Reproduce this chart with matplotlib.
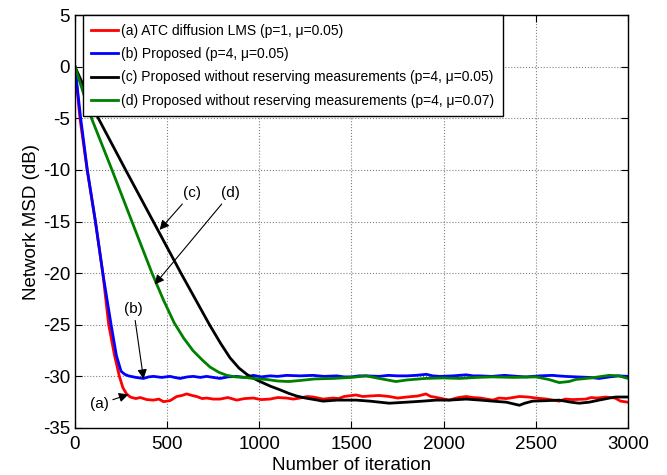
import matplotlib
matplotlib.use('Agg')
import matplotlib.pyplot as plt

plt.rcParams['font.family'] = ['Liberation Sans', 'DejaVu Sans']
plt.rcParams['axes.unicode_minus'] = False

# (a) ATC diffusion LMS
iter_a = [0, 27, 66, 111, 151, 183, 215, 241, 260, 280, 300, 330, 354, 390, 426, 455, 480,
          516, 552, 580, 606, 635, 660, 690, 714, 750, 787, 830, 877, 920, 968, 1010, 1058,
          1100, 1148, 1185, 1220, 1260, 1292, 1346, 1400, 1430, 1460, 1525, 1560, 1600, 1650,
          1705, 1750, 1800, 1830, 1860, 1904, 1930, 1950, 1990, 2030, 2080, 2122, 2160, 2200,
          2266, 2300, 2340, 2411, 2460, 2501, 2530, 2560, 2627, 2660, 2700, 2772, 2800, 2830,
          2880, 2930, 2960, 3000]
msd_a = [0, -5, -10, -15, -20, -25, -28, -30, -31.1, -31.7, -32.0, -32.15, -32.05, -32.25,
         -32.3, -32.2, -32.45, -32.35, -31.95, -31.85, -31.7, -31.85, -31.95, -32.15, -32.1,
         -32.2, -32.2, -32.05, -32.3, -32.15, -32.1, -32.25, -32.2, -32.05, -32.1, -32.2,
         -32.1, -31.95, -32.0, -32.2, -32.1, -32.15, -31.95, -31.8, -31.95, -31.9, -31.85,
         -31.95, -32.1, -32.0, -31.95, -31.9, -31.7, -31.95, -32.0, -32.15, -32.3, -32.05,
         -31.95, -32.05, -32.1, -32.3, -32.1, -32.15, -31.95, -32.0, -32.1, -32.15, -32.2,
         -32.4, -32.2, -32.25, -32.2, -32.05, -32.1, -32.0, -32.1, -32.4, -32.5]

# (b) Proposed
iter_b = [0, 31, 67, 111, 151, 196, 225, 250, 270, 290, 330, 371, 400, 426, 470, 516, 540,
          570, 610, 642, 680, 714, 750, 787, 830, 877, 920, 968, 1010, 1058, 1100, 1148, 1220,
          1292, 1350, 1420, 1460, 1500, 1540, 1580, 1650, 1700, 1750, 1800, 1850, 1906, 1940,
          1980, 2050, 2122, 2160, 2194, 2260, 2330, 2400, 2447, 2520, 2591, 2620, 2660, 2720,
          2790, 2843, 2900, 2950, 3000]
msd_b = [0, -5, -10, -15, -20, -25, -28, -29.5, -29.8, -29.95, -30.1, -30.2, -30.05, -30.0,
         -30.1, -30.0, -30.1, -30.2, -30.05, -30.0, -30.1, -30.0, -30.1, -30.2, -30.05, -30.0,
         -30.1, -29.9, -30.05, -29.95, -30.0, -29.9, -29.95, -29.9, -30.0, -29.95, -30.05,
         -30.05, -29.95, -29.95, -30.0, -29.9, -29.95, -29.95, -29.9, -29.8, -29.95, -30.0,
         -29.95, -29.85, -29.95, -29.95, -30.0, -29.9, -30.0, -30.05, -29.95, -29.9, -29.95,
         -30.0, -30.05, -30.1, -30.2, -30.05, -29.95, -30.0]

# (c) Proposed without reserving measurements, mu=0.05
iter_c = [0, 127, 275, 425, 575, 730, 790, 841, 890, 932, 970, 1004, 1060, 1112, 1160, 1202,
          1250, 1300, 1346, 1420, 1525, 1600, 1705, 1800, 1886, 1960, 2030, 2122, 2200, 2266,
          2340, 2411, 2440, 2483, 2560, 2627, 2690, 2735, 2790, 2843, 2900, 2933, 3000]
msd_c = [0, -5, -10, -15, -20, -25, -26.8, -28.2, -29.2, -29.8, -30.2, -30.5, -30.95, -31.3,
         -31.65, -31.9, -32.1, -32.25, -32.4, -32.3, -32.3, -32.4, -32.6, -32.5, -32.4, -32.3,
         -32.3, -32.2, -32.3, -32.4, -32.5, -32.8, -32.6, -32.4, -32.35, -32.3, -32.5, -32.6,
         -32.5, -32.3, -32.1, -32.0, -32.0]

# (d) Proposed without reserving measurements, mu=0.07
iter_d = [0, 90, 201, 309, 418, 480, 538, 590, 640, 690, 733, 780, 824, 870, 920, 968, 1040,
          1100, 1160, 1220, 1300, 1400, 1500, 1579, 1650, 1741, 1800, 1900, 2000, 2086, 2180,
          2266, 2380, 2501, 2570, 2627, 2680, 2717, 2800, 2898, 2950, 3000]
msd_d = [0, -5, -10, -15, -20, -22.6, -24.8, -26.3, -27.5, -28.4, -29.1, -29.6, -29.9,
         -30.05, -30.1, -30.2, -30.3, -30.45, -30.5, -30.4, -30.25, -30.2, -30.1, -29.95,
         -30.2, -30.5, -30.35, -30.2, -30.15, -30.2, -30.1, -30.05, -30.1, -30.05, -30.3,
         -30.6, -30.5, -30.3, -30.15, -29.9, -29.95, -30.2]

labels = ['(a) ATC diffusion LMS (p=1, \u03bc=0.05)',
          '(b) Proposed (p=4, \u03bc=0.05)',
          '(c) Proposed without reserving measurements (p=4, \u03bc=0.05)',
          '(d) Proposed without reserving measurements (p=4, \u03bc=0.07)']

fig = plt.figure(figsize=(6.67, 4.75), dpi=100)
ax = fig.add_axes([0.1124, 0.099, 0.8291, 0.869])

ax.plot(iter_a, msd_a, color='#ff0000', lw=2, label=labels[0])
ax.plot(iter_b, msd_b, color='#0000ff', lw=2, label=labels[1])
ax.plot(iter_c, msd_c, color='#000000', lw=2, label=labels[2])
ax.plot(iter_d, msd_d, color='#008000', lw=2, label=labels[3])

ax.set_xlim(0, 3000)
ax.set_ylim(-35, 5)
ax.set_xticks(range(0, 3001, 500))
ax.set_yticks(range(-35, 6, 5))
ax.grid(True, linestyle=':', color='#808080', lw=0.8)
ax.tick_params(direction='in', top=True, right=True, labelsize=13.5, length=5)
ax.tick_params(axis='x', pad=6)
for s in ax.spines.values():
    s.set_linewidth(1.0)
ax.set_xlabel('Number of iteration', fontsize=13.5, labelpad=3)
ax.set_ylabel('Network MSD (dB)', fontsize=13.5, labelpad=2)

leg = ax.legend(loc='upper left', bbox_to_anchor=(0.0145, 1.0), fontsize=10,
                frameon=True, fancybox=False, edgecolor='k', framealpha=1,
                handlelength=1.9, handletextpad=0.25, borderaxespad=0, borderpad=0.6,
                labelspacing=0.68)
leg.get_frame().set_linewidth(1.0)

arrow = dict(arrowstyle='-|>', color='k', lw=0.8, mutation_scale=14, shrinkA=1, shrinkB=0)
ax.annotate('(a)', xy=(290, -31.75), xytext=(132, -32.7), fontsize=11, ha='center',
            va='center', arrowprops=arrow)
ax.annotate('(b)', xy=(372, -30.25), xytext=(318, -23.5), fontsize=11, ha='center',
            va='center', arrowprops=arrow)
ax.annotate('(c)', xy=(459, -15.8), xytext=(634, -12.25), fontsize=11, ha='center',
            va='center', arrowprops=arrow)
ax.annotate('(d)', xy=(432, -21.1), xytext=(845, -12.25), fontsize=11, ha='center',
            va='center', arrowprops=arrow)

fig.savefig('out.png', dpi=100)
